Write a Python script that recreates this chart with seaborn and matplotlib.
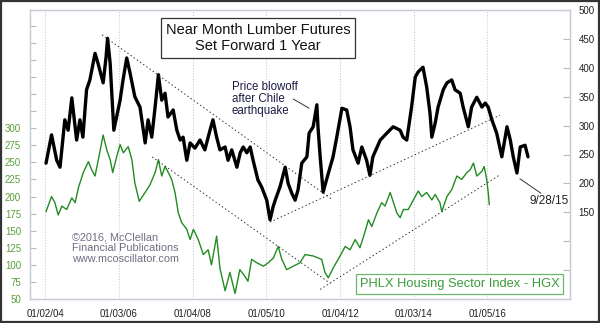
import numpy as np
import pandas as pd
import matplotlib
matplotlib.use("Agg")
import matplotlib.pyplot as plt
from matplotlib.patches import Rectangle
import seaborn as sns

# ---------------- data (decimal years) ----------------
lumber_t = [2004.02, 2004.17, 2004.31, 2004.40, 2004.53, 2004.62, 2004.72, 2004.85, 2004.94, 2005.02,
            2005.12, 2005.21, 2005.35, 2005.43, 2005.57, 2005.65, 2005.69, 2005.76, 2005.86, 2006.03,
            2006.11, 2006.21, 2006.30, 2006.43, 2006.57, 2006.71, 2006.79, 2006.89, 2006.98, 2007.07,
            2007.16, 2007.25, 2007.33, 2007.47, 2007.57, 2007.66, 2007.74, 2007.84, 2007.93, 2008.06,
            2008.20, 2008.33, 2008.47, 2008.55, 2008.65, 2008.74, 2008.88, 2008.96, 2009.06, 2009.20,
            2009.29, 2009.37, 2009.47, 2009.56, 2009.64, 2009.77, 2009.87, 2010.01, 2010.10, 2010.18,
            2010.24, 2010.37, 2010.51, 2010.59, 2010.69, 2010.78, 2010.86, 2010.96, 2011.10, 2011.16,
            2011.27, 2011.37, 2011.40, 2011.46, 2011.54, 2011.67, 2011.81, 2011.91, 2012.05, 2012.18,
            2012.27, 2012.35, 2012.49, 2012.59, 2012.72, 2012.81, 2012.89, 2013.09, 2013.27, 2013.44,
            2013.63, 2013.71, 2013.81, 2013.94, 2014.04, 2014.12, 2014.25, 2014.35, 2014.44, 2014.49,
            2014.58, 2014.66, 2014.80, 2014.90, 2015.03, 2015.12, 2015.26, 2015.34, 2015.48, 2015.57,
            2015.71, 2015.85, 2015.94, 2016.02, 2016.12, 2016.25, 2016.39, 2016.53, 2016.62, 2016.70,
            2016.80, 2016.89, 2017.02, 2017.10]
lumber_v = [235, 284, 240, 228, 310, 292, 348, 275, 310, 280,
            362, 379, 425, 408, 374, 419, 451, 408, 292, 344,
            379, 417, 391, 350, 332, 270, 310, 280, 332, 388,
            344, 356, 315, 327, 292, 275, 280, 240, 270, 261,
            275, 258, 292, 310, 280, 258, 263, 240, 258, 228,
            253, 263, 253, 263, 240, 206, 194, 171, 137, 159,
            171, 194, 228, 200, 183, 171, 189, 235, 246, 287,
            298, 336, 298, 246, 185, 215, 246, 280, 330, 327,
            298, 258, 235, 263, 240, 214, 246, 275, 287, 298,
            292, 280, 275, 332, 384, 393, 401, 367, 322, 280,
            304, 332, 362, 374, 379, 362, 356, 332, 298, 332,
            349, 332, 339, 332, 310, 287, 246, 298, 275, 246,
            218, 263, 266, 246]

hgx_t = [2004.02, 2004.17, 2004.26, 2004.35, 2004.45, 2004.58, 2004.72, 2004.81, 2004.90, 2005.03,
         2005.17, 2005.26, 2005.35, 2005.44, 2005.57, 2005.67, 2005.76, 2005.83, 2005.94, 2006.03,
         2006.12, 2006.25, 2006.35, 2006.43, 2006.55, 2006.71, 2006.84, 2006.98, 2007.07, 2007.16,
         2007.25, 2007.34, 2007.43, 2007.52, 2007.61, 2007.70, 2007.84, 2007.93, 2008.02, 2008.15,
         2008.29, 2008.42, 2008.51, 2008.65, 2008.74, 2008.88, 2009.01, 2009.15, 2009.28, 2009.42,
         2009.50, 2009.60, 2009.74, 2009.92, 2010.05, 2010.19, 2010.32, 2010.42, 2010.55, 2010.73,
         2010.91, 2011.05, 2011.27, 2011.50, 2011.59, 2011.68, 2011.82, 2012.00, 2012.14, 2012.27,
         2012.41, 2012.54, 2012.68, 2012.77, 2012.86, 2013.00, 2013.13, 2013.22, 2013.36, 2013.45,
         2013.54, 2013.63, 2013.72, 2013.85, 2013.99, 2014.12, 2014.22, 2014.35, 2014.49, 2014.58,
         2014.71, 2014.76, 2014.90, 2015.03, 2015.17, 2015.30, 2015.44, 2015.53, 2015.62, 2015.71,
         2015.85, 2015.91, 2015.98, 2016.02, 2016.05]
hgx_v = [178, 200, 191, 173, 186, 181, 198, 191, 213, 235,
         251, 239, 230, 254, 290, 268, 254, 235, 259, 276,
         264, 273, 254, 220, 193, 206, 217, 235, 254, 230,
         244, 235, 225, 206, 176, 162, 152, 137, 152, 137,
         115, 122, 100, 142, 95, 62, 89, 58, 93, 83,
         76, 108, 103, 98, 103, 110, 127, 108, 93, 98,
         103, 115, 113, 108, 89, 81, 96, 113, 127, 122,
         137, 125, 149, 166, 156, 176, 191, 186, 206, 191,
         176, 169, 181, 181, 195, 208, 200, 206, 195, 203,
         191, 178, 200, 210, 230, 225, 235, 239, 249, 230,
         237, 244, 225, 206, 188]

tick_years = [2004.0, 2006.0, 2008.0, 2010.0, 2012.0, 2014.0, 2016.0]
tick_labels = ["01/02/04", "01/03/06", "01/04/08", "01/05/10", "01/04/12", "01/03/14", "01/05/16"]
left_ticks = list(range(50, 475, 25))
right_ticks = list(range(50, 501, 50))

# trend lines (start, end)
lumber_down_t = [2005.54, 2011.81]; lumber_down_v = [457, 171]
lumber_up_t = [2010.10, 2016.34];   lumber_up_v = [133, 318]
hgx_down_t = [2006.90, 2011.73];    hgx_down_v = [258, 73]
hgx_up_t = [2011.46, 2016.34];      hgx_up_v = [64, 232]

# ---------------- style ----------------
sns.set_style("white")
plt.rcParams['font.family'] = ['Liberation Sans', 'DejaVu Sans']

fig = plt.figure(figsize=(6.0, 3.23), dpi=100)
fig.patch.set_facecolor("white")
ax = fig.add_axes([30/600, 24/323, 540/600, 289/323])
ax2 = ax.twinx()

green = "#228b22"
sns.lineplot(x=hgx_t, y=hgx_v, ax=ax, color=green, linewidth=1.0)
sns.lineplot(x=lumber_t, y=lumber_v, ax=ax2, color="black", linewidth=2.4)

dot = dict(color="#333333", linewidth=0.7, linestyle=(0, (1.5, 2.5)))
ax2.plot(lumber_down_t, lumber_down_v, **dot)
ax2.plot(lumber_up_t, lumber_up_v, **dot)
ax.plot(hgx_down_t, hgx_down_v, **dot)
ax.plot(hgx_up_t, hgx_up_v, **dot)

ax.set_xlim(2003.585, 2018.24)
ax.set_ylim(50, 473)
ax2.set_ylim(0, 500)

ax.set_xticks(tick_years)
ax.set_xticklabels(tick_labels, fontsize=7, color="#222222")
ax.set_yticks(left_ticks)
ax.set_yticklabels([str(v) if v <= 300 else "" for v in left_ticks], fontsize=7, color="#5a9e3a")
ax2.set_yticks(right_ticks)
ax2.set_yticklabels([str(v) if v >= 150 else "" for v in right_ticks], fontsize=7, color="#222222")

ax.tick_params(axis="x", length=0, pad=7)
ax.tick_params(axis="y", direction="in", length=4, width=0.8, color="#b8bcc8", pad=6.5)
ax2.tick_params(axis="y", direction="in", length=5, width=0.8, color="#b8bcc8", pad=6)
ax.grid(axis="x", color="#c4ccd8", linestyle=(0, (1, 1.5)), linewidth=0.8)
ax.grid(axis="y", visible=False)
ax2.grid(False)
ax.set_xlabel(""); ax.set_ylabel(""); ax2.set_ylabel("")
for a in (ax, ax2):
    for s in a.spines.values():
        s.set_color("#c8ccd6")
        s.set_linewidth(0.9)

# annotation lines
ax2.plot([2010.73, 2011.16], [346, 330], color="#333333", linewidth=0.7)
ax2.plot([2016.88, 2017.45], [208, 183], color="#333333", linewidth=0.7)

def fx(px):
    return px / 600
def fy(py):
    return 1 - py / 323

fig.text(fx(258), fy(38), "Near Month Lumber Futures\nSet Forward 1 Year", ha="center", va="center",
         fontsize=10.5, color="#111111", linespacing=1.25,
         bbox=dict(boxstyle="square,pad=0.3", facecolor="white", edgecolor="#333333", linewidth=0.9))
fig.text(fx(232), fy(99), "Price blowoff\nafter Chile\nearthquake", ha="left", va="center",
         fontsize=8.3, color="#1c1c44", linespacing=1.05)
fig.text(fx(72), fy(248), "\u00a92016, McClellan\nFinancial Publications\nwww.mcoscillator.com",
         ha="left", va="center", fontsize=7.8, color="#6e6e82", linespacing=1.12)
fig.text(fx(530), fy(201), "9/28/15", ha="left", va="center", fontsize=8.5, color="#222222")
fig.text(fx(459.5), fy(284), "PHLX Housing Sector Index - HGX", ha="center", va="center",
         fontsize=9.3, color="#3a9a3a",
         bbox=dict(boxstyle="square,pad=0.3", facecolor="white", edgecolor="#6ab86a", linewidth=0.9))

fig.patches.append(Rectangle((0.0015, 0.003), 0.997, 0.994, transform=fig.transFigure,
                             fill=False, edgecolor="#333333", linewidth=1.6))

fig.savefig("out.png", dpi=100)
